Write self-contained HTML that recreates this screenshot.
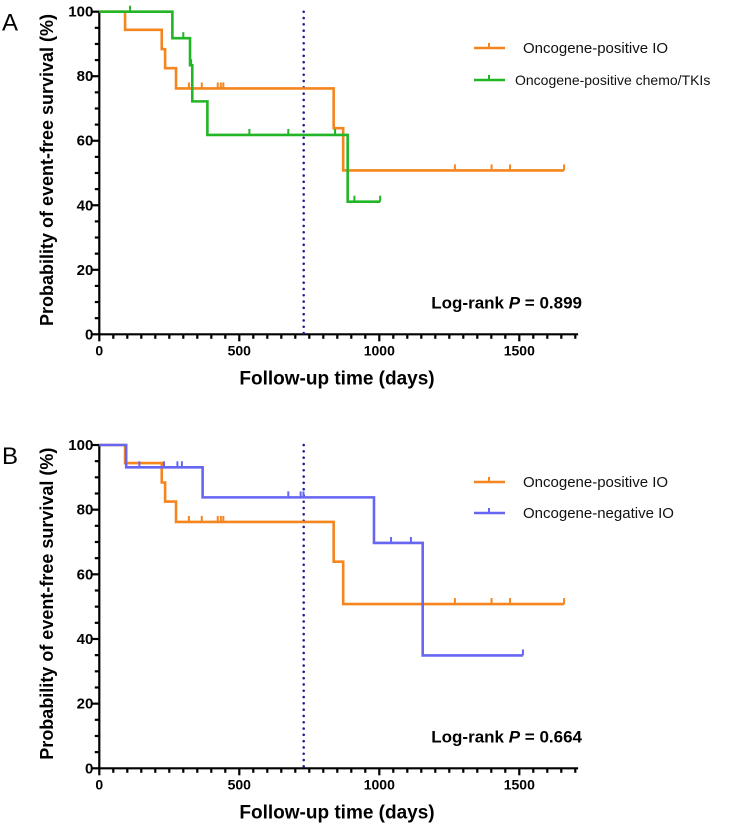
<!DOCTYPE html>
<html><head><meta charset="utf-8"><style>
body{margin:0;background:#fff;}
svg{display:block;font-family:"Liberation Sans",Arial,sans-serif;}
</style></head><body>
<svg id="chart" width="744" height="824" viewBox="0 0 744 824" xmlns="http://www.w3.org/2000/svg"></svg>
<script>
// Panel A data
const ioTimes=[0,92,223,235,274,837,871,1660];
const ioSurv=[100,94.4,88.4,82.5,76.2,63.9,50.8,50.8];
const ioCensor=[320,366,423,434,443,837,1270,1401,1467,1660];
const chemoTimes=[0,261,324,332,386,887,1003];
const chemoSurv=[100,91.8,83.4,72.2,61.8,41.1,41.1];
const chemoCensor=[110,300,328,536,675,842,911,1003];
// Panel B data
const negTimes=[0,96,369,981,1155,1513];
const negSurv=[100,93.1,83.8,69.7,34.9,34.9];
const negCensor=[143,231,279,295,675,719,729,1042,1113,1513];
const xTicks=[0,500,1000,1500];
const yTicks=[0,20,40,60,80,100];
const landmarkDay=[730];

const NS="http://www.w3.org/2000/svg";
const svg=document.getElementById('chart');
function el(tag,attrs,parent,text){const e=document.createElementNS(NS,tag);for(const k in attrs)e.setAttribute(k,attrs[k]);if(text!==undefined)e.textContent=text;(parent||svg).appendChild(e);return e;}

const X0=99.3,PXD=0.28,XMAX=1710;
function panel(id,top0,y100,letter,series,legend,pText){
  const y0=top0,ph=(y0-y100);
  const sx=d=>X0+d*PXD, sy=v=>y0-v/100*ph;
  const g=el('g',{});
  
  
  const lt=el('text',{x:2,y:y100+19,'font-size':24,fill:'#000'},g,letter);
  
  
  const ax=el('g',{stroke:'#000','stroke-width':2.2},g);
  
  
  el('line',{x1:X0,y1:y100-1,x2:X0,y2:y0+1},ax);
  el('line',{x1:X0-1,y1:y0,x2:sx(XMAX),y2:y0},ax);
  for(let d=0;d<=XMAX;d+=50){const maj=d%500===0;el('line',{x1:sx(d),y1:y0,x2:sx(d),y2:y0+(maj?7:4.5)},ax);}
  for(let v=0;v<=100;v+=5){const maj=v%20===0;el('line',{x1:X0,y1:sy(v),x2:X0-(maj?7:4.5),y2:sy(v)},ax);}
  xTicks.forEach(d=>{const t=el('text',{x:sx(d),y:y0+21,'font-size':14,'font-weight':'bold','text-anchor':'middle'},g,d);});
  yTicks.forEach(v=>{const t=el('text',{x:X0-6,y:sy(v)+5,'font-size':15,'font-weight':'bold','text-anchor':'end'},g,v);});
  const xt=el('text',{x:337,y:y0+50,'font-size':19,'font-weight':'bold','text-anchor':'middle'},g,'Follow-up time (days)');
  
  const yc=(y0+y100)/2-3;
  const yt=el('text',{x:53,y:yc,'font-size':18,'font-weight':'bold','text-anchor':'middle',transform:`rotate(-90 53 ${yc})`},g,'Probability of event-free survival (%)');
  
  landmarkDay.forEach(d=>{const l=el('line',{x1:sx(d),y1:y100,x2:sx(d),y2:y0,stroke:'#1a1a9a','stroke-width':2.5,'stroke-dasharray':'0.1 6.2','stroke-linecap':'round'},g);});
  series.forEach(s=>{
    let d=`M${sx(s.t[0])},${sy(s.s[0])}`;
    for(let i=1;i<s.t.length;i++){d+=`H${sx(s.t[i])}V${sy(s.s[i])}`;}
    const p=el('path',{d:d,fill:'none',stroke:s.c,'stroke-width':2.6},g);
    
    s.cens.forEach(c=>{let v=s.s[0];for(let i=0;i<s.t.length;i++){if(s.t[i]<=c)v=s.s[i];}
      const m=el('line',{x1:sx(c),y1:sy(v),x2:sx(c),y2:sy(v)-6,stroke:s.c,'stroke-width':2},g);
      });
  });
  legend.forEach((L,i)=>{
    const lg=el('g',{},g);
    const ly=L.y;
    el('line',{x1:474,y1:ly,x2:505,y2:ly,stroke:L.c,'stroke-width':2.6},lg);
    el('line',{x1:489,y1:ly,x2:489,y2:ly-5,stroke:L.c,'stroke-width':2},lg);
    el('text',{x:L.x,y:ly+5,'font-size':L.fs,fill:'#111'},lg,L.label);
  });
  const pt=el('text',{x:582,y:y0-26,'font-size':17,'font-weight':'bold','text-anchor':'end'},g);
  
  el('tspan',{},pt,'Log-rank ');el('tspan',{'font-style':'italic'},pt,'P');el('tspan',{},pt,' = '+pText);
}
const orange='#f5851f',green='#22b526',blue='#6666f2';
panel('a',334.3,11.7,'A',
 [{name:'io-positive',t:ioTimes,s:ioSurv,cens:ioCensor,c:orange},{name:'chemo-tki',t:chemoTimes,s:chemoSurv,cens:chemoCensor,c:green}],
 [{y:48,c:orange,label:'Oncogene-positive IO',x:523,fs:15},{y:80,c:green,label:'Oncogene-positive chemo/TKIs',x:515,fs:14}],'0.899');
panel('b',768.3,445,'B',
 [{name:'io-positive',t:ioTimes,s:ioSurv,cens:ioCensor,c:orange},{name:'io-negative',t:negTimes,s:negSurv,cens:negCensor,c:blue}],
 [{y:482,c:orange,label:'Oncogene-positive IO',x:523,fs:15},{y:513,c:blue,label:'Oncogene-negative IO',x:523,fs:15}],'0.664');
</script>
</body></html>
